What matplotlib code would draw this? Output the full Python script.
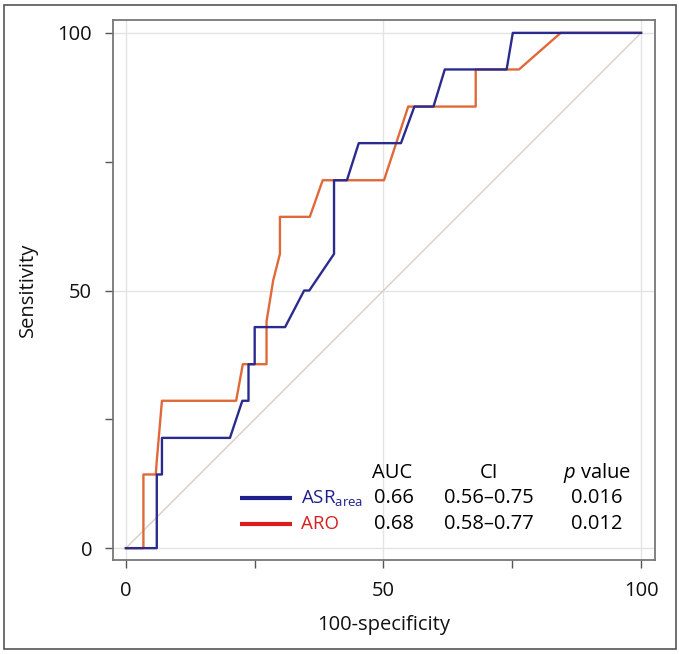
import numpy as np
import matplotlib
matplotlib.use("Agg")
import matplotlib.pyplot as plt
from matplotlib.patches import Rectangle

plt.rcParams['font.family'] = ['Open Sans', 'DejaVu Sans']
plt.rcParams['mathtext.fontset'] = 'custom'
plt.rcParams['mathtext.rm'] = 'Open Sans'
plt.rcParams['mathtext.it'] = 'Open Sans:italic'

# ROC curves (100-specificity, sensitivity)
asr_x = [0, 6.0, 6.0, 7.0, 7.0, 20.2, 22.6, 23.8, 23.8, 25.0, 25.0, 30.9, 34.6, 35.6,
         40.4, 40.4, 42.9, 45.2, 53.4, 56.0, 59.7, 61.9, 73.9, 75.1, 100]
asr_y = [0, 0, 14.3, 14.3, 21.4, 21.4, 28.6, 28.6, 35.7, 35.7, 42.9, 42.9, 50.0, 50.0,
         57.1, 71.4, 71.4, 78.6, 78.6, 85.7, 85.7, 92.9, 92.9, 100, 100]

aro_x = [0, 3.4, 3.4, 5.8, 6.0, 7.0, 21.4, 22.7, 27.3, 27.3, 28.6, 29.9, 29.9, 35.7,
         38.2, 50.1, 54.8, 67.9, 67.9, 76.3, 84.4, 100]
aro_y = [0, 0, 14.3, 14.3, 17.0, 28.6, 28.6, 35.7, 35.7, 44.0, 52.0, 57.1, 64.3, 64.3,
         71.4, 71.4, 85.7, 85.7, 92.9, 92.9, 100, 100]

names = ["$\\mathrm{ASR}_{\\mathrm{area}}$", "ARO"]
auc = ["0.66", "0.68"]
ci = ["0.56\u20130.75", "0.58\u20130.77"]
pval = ["0.016", "0.012"]

blue = "#2b2b8e"
orange = "#e0693a"
legend_cols = ["#1e1e8c", "#d81e1e"]

fig = plt.figure(figsize=(6.79, 6.54), dpi=100)
fig.patches.append(Rectangle((4 / 679, 1 - 649 / 654), 672 / 679, 644.5 / 654,
                             transform=fig.transFigure, fill=False,
                             edgecolor="#555555", linewidth=1.2))
ax = fig.add_axes([113 / 679, 1 - 560 / 654, 542 / 679, 540 / 654])

ax.plot([0, 100], [0, 100], color="#d9c9bd", linewidth=0.9, zorder=1)
ax.plot(aro_x, aro_y, color=orange, linewidth=1.7, zorder=3)
ax.plot(asr_x, asr_y, color=blue, linewidth=1.7, zorder=4)

ax.set_xlim(-2.5, 102.7)
ax.set_ylim(-2.3, 102.5)
ax.set_xticks([0, 25, 50, 75, 100])
ax.set_xticklabels(["0", "", "50", "", "100"])
ax.set_yticks([0, 25, 50, 75, 100])
ax.set_yticklabels(["0", "", "50", "", "100"])
for v in [0, 50, 100]:
    ax.axvline(v, color="#e4e4e4", linewidth=1.0, zorder=0)
    ax.axhline(v, color="#e4e4e4", linewidth=1.0, zorder=0)
ax.tick_params(direction="out", length=6, width=1.0, color="#555555",
               labelsize=14.5, labelcolor="#111111", pad=9)
for s in ax.spines.values():
    s.set_color("#777777")
    s.set_linewidth(1.3)

ax.set_xlabel("100-specificity", fontsize=14.5, labelpad=10, color="#111111")
ax.set_ylabel("Sensitivity", fontsize=14.5, labelpad=14, color="#111111")

# legend table
fs = 14.5
ax.text(51.6, 14.6, "AUC", ha="center", va="center", fontsize=fs)
ax.text(70.5, 14.6, "CI", ha="center", va="center", fontsize=fs)
ax.text(91.4, 14.6, "$p$ value", ha="center", va="center", fontsize=fs)
rows_y = [9.8, 4.6]
for i in range(2):
    y = rows_y[i]
    ax.plot([22.1, 32.2], [y, y], color=legend_cols[i], linewidth=3, solid_capstyle="butt")
    ax.text(33.9, y, names[i], ha="left", va="center", fontsize=13.5, color=legend_cols[i])
    ax.text(52.0, y, auc[i], ha="center", va="center", fontsize=fs)
    ax.text(70.5, y, ci[i], ha="center", va="center", fontsize=fs)
    ax.text(91.4, y, pval[i], ha="center", va="center", fontsize=fs)

fig.savefig("out.png", dpi=100)
